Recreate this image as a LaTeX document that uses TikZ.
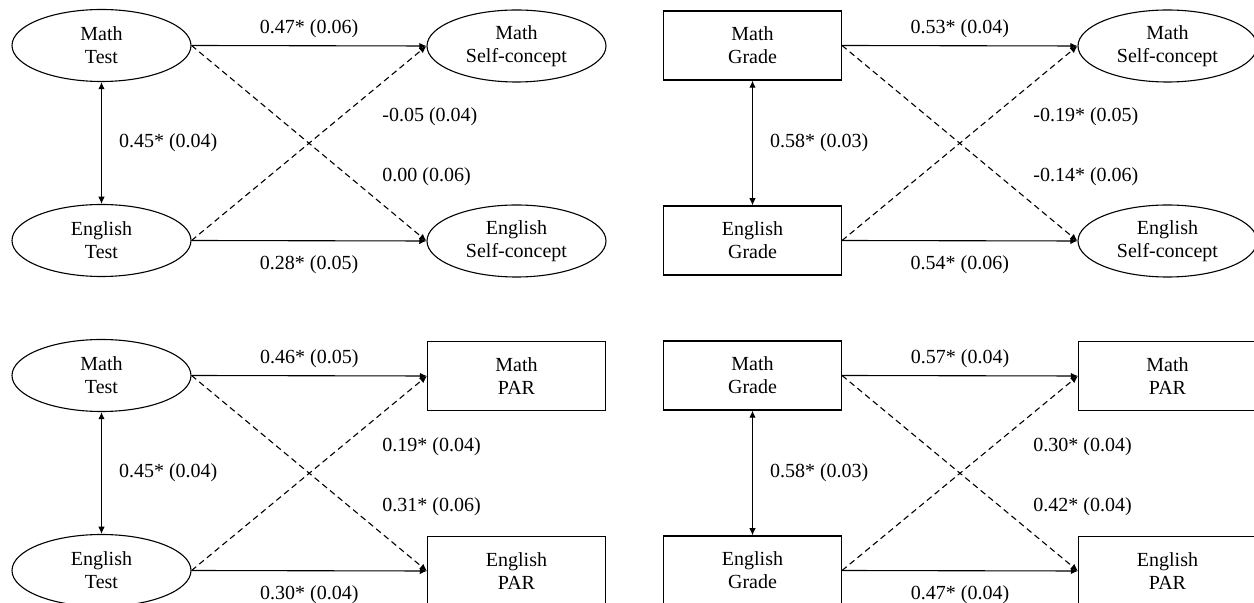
\documentclass[tikz,border=0pt]{standalone}
\usepackage{fontspec}
\setmainfont{Liberation Serif}
\usetikzlibrary{arrows.meta,shapes.geometric}

\tikzset{
  base/.style={draw, line width=0.55pt, inner sep=0pt, align=center,
               font=\fontsize{10}{11.5}\selectfont},
  latent/.style={base, ellipse, minimum width=89.5pt, minimum height=36pt},
  observed/.style={base, rectangle, minimum width=89pt, minimum height=34.5pt},
  path/.style={line width=0.55pt, -{Latex[length=3.6pt,width=3.2pt]}},
  cross/.style={path, dash pattern=on 3pt off 2pt},
  covar/.style={line width=0.55pt, {Latex[length=3.6pt,width=3.2pt]}-{Latex[length=3.6pt,width=3.2pt]}},
  coef/.style={font=\fontsize{10}{12}\selectfont, inner sep=0pt},
}

% One cross-lagged panel: #1 prefix, #2/#3 shapes of predictors / outcomes,
% #4/#5 second text lines, #6..#9 and the next argument are the coefficients
\newcommand{\crosspanel}[9]{%
  \node[#2] (#1ml) at (101.5,45.5) {Math\\#4};
  \node[#2] (#1el) at (101.5,240.5) {English\\#4};
  \node[#3] (#1mr) at (516.5,46) {Math\\#5};
  \node[#3] (#1er) at (516.5,241) {English\\#5};
  \draw[path] (#1ml.east) -- (#1mr.west) node[coef, midway, above=3.5pt] {#6};
  \draw[path] (#1el.east) -- (#1er.west) node[coef, midway, below=7pt] {#7};
  \draw[cross] (#1ml.east) -- (#1er.west);
  \draw[cross] (#1el.east) -- (#1mr.west);
  \draw[covar] (#1ml.south) -- (#1el.north)
    node[coef, midway, anchor=west, xshift=8.5pt] {#8};
  \node[coef, anchor=west] (#1c1) at (382,117) {#9};
  \crosspanelrest{#1}%
}
\newcommand{\crosspanelrest}[2]{\node[coef, anchor=west] (#1c2) at (382,177) {#2};}

\begin{document}
\begin{tikzpicture}[x=0.5pt, y=-0.5pt]
  \useasboundingbox (0,0) rectangle (1254,603);

  % Test -> Self-concept
  \begin{scope}
    \crosspanel{a}{latent}{latent}{Test}{Self-concept}{0.47* (0.06)}{0.28* (0.05)}{0.45* (0.04)}{-0.05 (0.04)}{0.00 (0.06)}
  \end{scope}

  % Grade -> Self-concept
  \begin{scope}[shift={(651,0)}]
    \crosspanel{b}{observed}{latent}{Grade}{Self-concept}{0.53* (0.04)}{0.54* (0.06)}{0.58* (0.03)}{-0.19* (0.05)}{-0.14* (0.06)}
  \end{scope}

  % Test -> PAR
  \begin{scope}[shift={(0,330)}]
    \crosspanel{c}{latent}{observed}{Test}{PAR}{0.46* (0.05)}{0.30* (0.04)}{0.45* (0.04)}{0.19* (0.04)}{0.31* (0.06)}
  \end{scope}

  % Grade -> PAR
  \begin{scope}[shift={(651,330)}]
    \crosspanel{d}{observed}{observed}{Grade}{PAR}{0.57* (0.04)}{0.47* (0.04)}{0.58* (0.03)}{0.30* (0.04)}{0.42* (0.04)}
  \end{scope}
\end{tikzpicture}
\end{document}
